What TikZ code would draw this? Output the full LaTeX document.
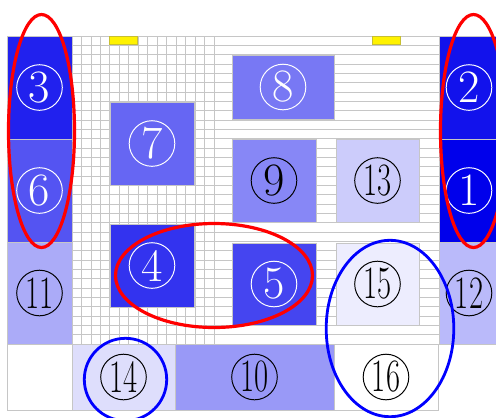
\documentclass[tikz,border=0pt]{standalone}
\usepackage{graphicx}
\usetikzlibrary{shapes.geometric}

\definecolor{basecol}{RGB}{0,0,235}
\newcommand{\twodig}[1]{\scalebox{0.66}[1]{#1}}

\begin{document}
\begin{tikzpicture}[
    x=0.25mm, y=-0.25mm,
    cell/.style 2 args={rectangle, draw=gray!45, thin, inner sep=0pt, outer sep=0pt, minimum width=#1*0.25mm, minimum height=#2*0.25mm},
    num_light/.style={circle, draw=white, text=white, line width=0.7pt, inner sep=0pt, minimum size=11.4mm, font=\fontsize{33}{34}\selectfont},
    num_dark/.style={num_light, draw=black, text=black},
    marker/.style={rectangle, fill=yellow, draw=yellow!75!black, thin, inner sep=0pt, minimum width=7mm, minimum height=2mm},
    ring_red/.style={ellipse, draw=red, line width=0.8mm, inner sep=0pt},
    ring_blue/.style={ellipse, draw=blue, line width=0.7mm, inner sep=0pt},
    grid_line/.style={draw=gray!45, line width=0.2mm},
]
    \useasboundingbox (0, 0) rectangle (496, 417);
    \clip (0, 0) rectangle (496, 417);

    % background grid
    \foreach \i in {0,...,33}
        \draw[grid_line] (72, 36+\i*9.333) -- (439, 36+\i*9.333);
    \foreach \i in {0,...,15}
        \draw[grid_line] (72+\i*9.467, 36) -- (72+\i*9.467, 344);

    \node(mark_l)[marker] at (123.5, 40) {};
    \node(mark_r)[marker] at (386, 40) {};

    % outer columns
    \node(c3)[cell={65}{103}, fill=basecol!87] at (39.5, 87.5) {};
    \node(c6)[cell={65}{103}, fill=basecol!67] at (39.5, 190.5) {};
    \node(c11)[cell={65}{102}, fill=basecol!33] at (39.5, 293) {};
    \node(c0)[cell={65}{66}, fill=white] at (39.5, 377) {};
    \node(c2)[cell={60}{103}, fill=basecol!93] at (469, 87.5) {};
    \node(c1)[cell={60}{103}, fill=basecol] at (469, 190.5) {};
    \node(c12)[cell={60}{102}, fill=basecol!27] at (469, 293) {};

    % bottom row
    \node(c14)[cell={103}{66}, fill=basecol!13] at (123.5, 377) {};
    \node(c10)[cell={159}{66}, fill=basecol!40] at (254.5, 377) {};
    \node(c16)[cell={104}{66}, fill=white] at (386, 377) {};

    % inner blocks
    \node(c7)[cell={84}{83}, fill=basecol!60] at (152, 143.5) {};
    \node(c8)[cell={102}{64}, fill=basecol!53] at (283, 87) {};
    \node(c9)[cell={84}{83}, fill=basecol!47] at (274, 180.5) {};
    \node(c13)[cell={83}{83}, fill=basecol!20] at (377.5, 180.5) {};
    \node(c4)[cell={84}{83}, fill=basecol!80] at (152, 265.5) {};
    \node(c5)[cell={84}{82}, fill=basecol!73] at (274, 284) {};
    \node(c15)[cell={83}{82}, fill=basecol!7] at (377.5, 284) {};

    % numbers
    \node(n1)[num_light] at (c1) {1};
    \node(n2)[num_light] at (c2) {2};
    \node(n3)[num_light] at (c3) {3};
    \node(n4)[num_light] at (c4) {4};
    \node(n5)[num_light] at (c5) {5};
    \node(n6)[num_light] at (c6) {6};
    \node(n7)[num_light] at (c7) {7};
    \node(n8)[num_light] at (c8) {8};
    \node(n9)[num_dark] at (c9) {9};
    \node(n10)[num_dark] at (c10) {\twodig{10}};
    \node(n11)[num_dark] at (c11) {\twodig{11}};
    \node(n12)[num_dark] at (c12) {\twodig{12}};
    \node(n13)[num_dark] at (c13) {\twodig{13}};
    \node(n14)[num_dark] at (c14) {\twodig{14}};
    \node(n15)[num_dark] at (c15) {\twodig{15}};
    \node(n16)[num_dark] at (c16) {\twodig{16}};

    % highlight rings
    \node(ring_left)[ring_red, minimum width=16.5mm, minimum height=58.25mm] at (41.5, 131) {};
    \node(ring_right)[ring_red, minimum width=16.5mm, minimum height=58.25mm] at (473.5, 131) {};
    \node(ring_mid)[ring_red, minimum width=49.25mm, minimum height=26mm] at (214, 275.5) {};
    \node(ring_small)[ring_blue, minimum width=20.6mm, minimum height=20.6mm] at (125.5, 379.5) {};
    \node(ring_tall)[ring_blue, minimum width=31.9mm, minimum height=44.1mm] at (390, 328.5) {};
\end{tikzpicture}
\end{document}
